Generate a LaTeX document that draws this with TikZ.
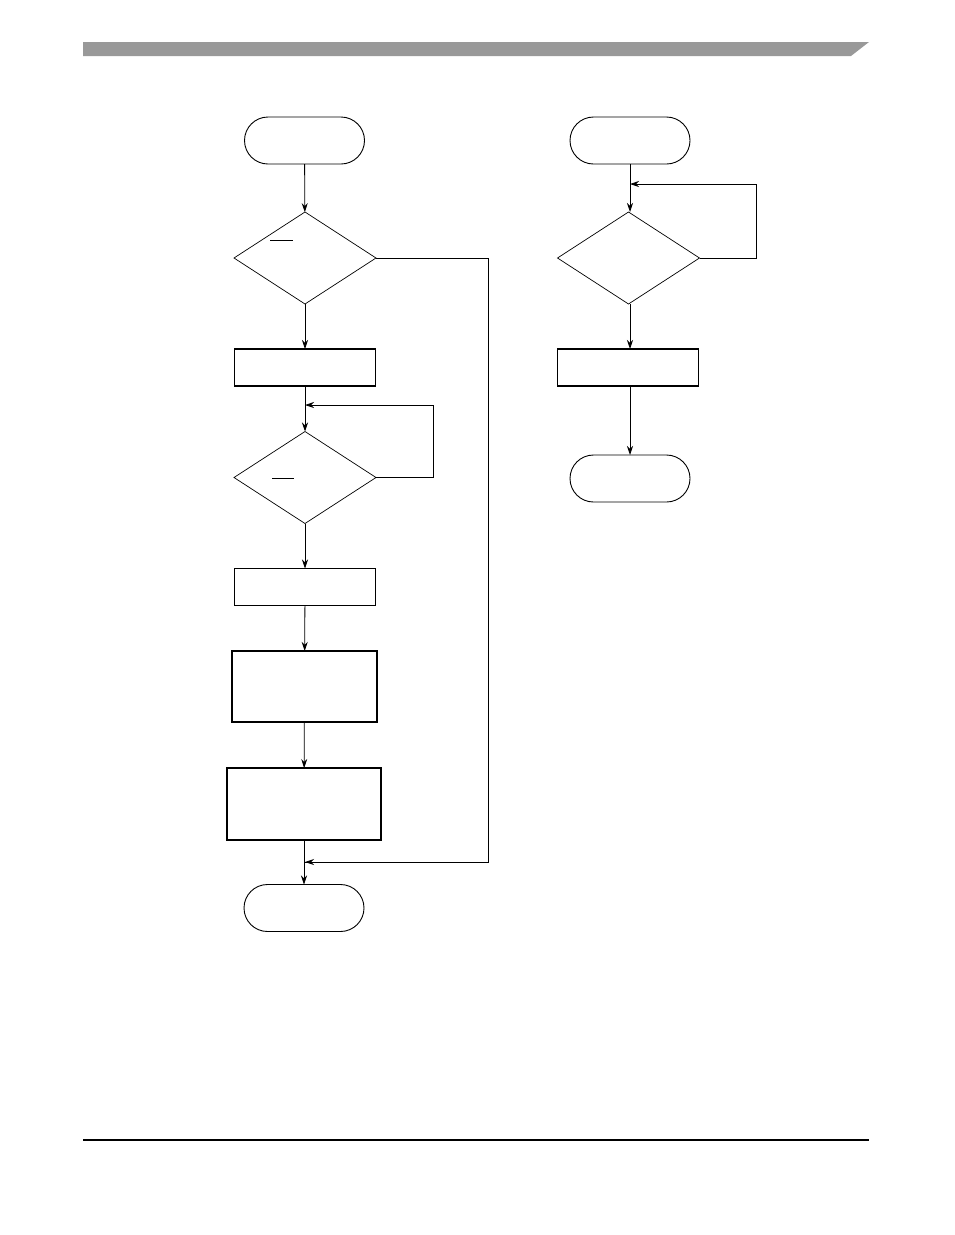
\documentclass[tikz,border=0pt]{standalone}
\usetikzlibrary{shapes.geometric,arrows.meta}
\definecolor{bargray}{HTML}{999999}
\begin{document}
\begin{tikzpicture}[x=1pt,y=-1pt,
  every node/.style={inner sep=0pt,outer sep=0pt},
  line/.style={line width=0.8pt},
  arr/.style={line width=0.8pt,-{Stealth[length=9pt,width=6pt]}},
  term/.style={draw,line width=0.9pt,minimum width=120pt,minimum height=47pt,rounded corners=23.5pt},
  dec/.style={draw,diamond,line width=0.7pt,minimum width=142pt,minimum height=92pt},
  proc/.style={draw,rectangle,line width=1.2pt,minimum width=141pt,minimum height=37pt},
  bigproc/.style={draw,rectangle,line width=1.6pt},
  tick/.style={line width=0.8pt}]
\useasboundingbox (0,0) rectangle (954,1235);
% header bar and footer rule
\fill[bargray] (83,42) -- (869,42) -- (851,56) -- (83,56) -- cycle;
\draw[line width=1.4pt] (83,1140) -- (869,1140);
% left flow
\node[term] (s1) at (304.5,140.5) {};
\node[dec] (d1) at (305,258) {};
\node[proc] (b1) at (305,367.5) {};
\node[dec] (d2) at (305,477.5) {};
\node[proc] (b2) at (305,587) {};
\node[bigproc,minimum width=145pt,minimum height=71pt] (b3) at (304.5,686.5) {};
\node[bigproc,minimum width=154pt,minimum height=72pt] (b4) at (304,804) {};
\node[term] (e1) at (304,908) {};
\coordinate (r1) at (488,258);
\coordinate (r2) at (488,862);
\coordinate (m1) at (305,862);
\coordinate (l1) at (433,477.5);
\coordinate (l2) at (433,405);
\coordinate (l3) at (305,405);
\draw[arr] (s1) -- (d1);
\draw[arr] (d1) -- (b1);
\draw[arr] (b1) -- (d2);
\draw[arr] (d2) -- (b2);
\draw[arr] (b2) -- (b3);
\draw[arr] (b3) -- (b4);
\draw[arr] (b4) -- (e1);
\draw[line] (d1.east) -- (r1) -- (r2) -- (m1);
\draw[arr] (r2) -- (m1);
\draw[line] (d2.east) -- (l1) -- (l2);
\draw[arr] (l2) -- (l3);
\draw[tick] ([shift={(-35,-18)}]d1.center) -- ([shift={(-12,-18)}]d1.center);
\draw[tick] ([shift={(-33,1)}]d2.center) -- ([shift={(-11,1)}]d2.center);
% right flow
\node[term] (s2) at (630,140.5) {};
\node[dec] (d3) at (628.5,258) {};
\node[proc] (b5) at (628,367.5) {};
\node[term] (e2) at (630,478.5) {};
\coordinate (q1) at (756,258);
\coordinate (q2) at (756,184);
\coordinate (q3) at (630,184);
\draw[arr] (s2) -- (s2 |- d3.north);
\draw[line] (d3.east) -- (q1) -- (q2);
\draw[arr] (q2) -- (q3);
\draw[arr] (s2 |- d3.south) -- (s2 |- b5.north);
\draw[arr] (s2 |- b5.south) -- (e2);
\end{tikzpicture}
\end{document}
